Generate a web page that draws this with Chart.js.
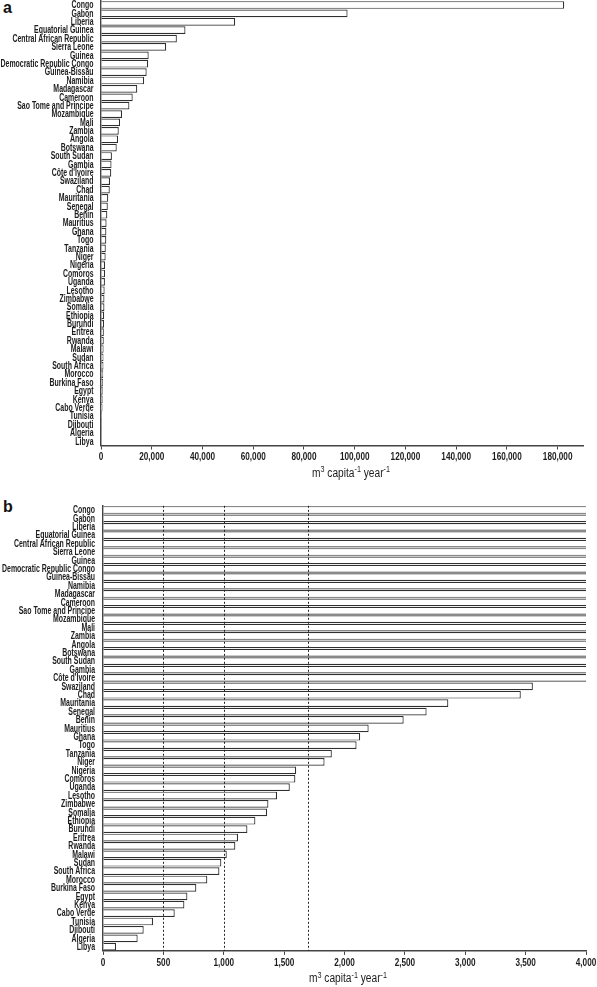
<!DOCTYPE html>
<html>
<head>
<meta charset="utf-8">
<script src="https://cdn.jsdelivr.net/npm/chart.js@4"></script>
<style>
  body { margin: 0; background: #fff; width: 597px; height: 987px; position: relative; overflow: hidden; }
  canvas { position: absolute; left: 0; }
  .tag { position: absolute; left: 3px; font: bold 16px/16px 'Liberation Sans', Arial, sans-serif; color: #111; }
</style>
</head>
<body>
<div class="tag" style="top:0px">a</div>
<canvas id="chartA" width="597" height="490" style="top:0"></canvas>
<div class="tag" style="top:499px">b</div>
<canvas id="chartB" width="597" height="490" style="top:497px"></canvas>
<script>
// pays, du plus au moins doté
const countries = [
  "Congo", "Gabon", "Liberia", "Equatorial Guinea", "Central African Republic",
  "Sierra Leone", "Guinea", "Democratic Republic Congo", "Guinea-Bissau", "Namibia",
  "Madagascar", "Cameroon", "Sao Tome and Principe", "Mozambique", "Mali",
  "Zambia", "Angola", "Botswana", "South Sudan", "Gambia",
  "Côte d'Ivoire", "Swaziland", "Chad", "Mauritania", "Senegal",
  "Benin", "Mauritius", "Ghana", "Togo", "Tanzania",
  "Niger", "Nigeria", "Comoros", "Uganda", "Lesotho",
  "Zimbabwe", "Somalia", "Ethiopia", "Burundi", "Eritrea",
  "Rwanda", "Malawi", "Sudan", "South Africa", "Morocco",
  "Burkina Faso", "Egypt", "Kenya", "Cabo Verde", "Tunisia",
  "Djibouti", "Algeria", "Libya"
];

// m3 par habitant et par an
const water = [
  182600, 97200, 52900, 33300, 29900,
  25700, 18800, 18600, 18000, 17000,
  14300, 12500, 11200, 8300, 7500,
  7000, 6700, 6200, 4300, 4150,
  4050, 3560, 3460, 2860, 2680,
  2490, 2200, 2130, 2100, 1895,
  1835, 1600, 1593, 1547, 1441,
  1370, 1359, 1262, 1196, 1118,
  1096, 1025, 980, 964, 864,
  773, 699, 674, 594, 414,
  337, 287, 108
];

const ticksA = [0, 20000, 40000, 60000, 80000, 100000, 120000, 140000, 160000, 180000];
const ticksB = [0, 500, 1000, 1500, 2000, 2500, 3000, 3500, 4000];
const thresholds = [500, 1000, 1700];

// titre de l'axe : [texte, exposant ?]
const axisTitle = [["m", false], ["3", true], [" capita", false], ["-1", true], [" year", false], ["-1", true]];

const labelFont = "bold 10px 'Liberation Sans', Arial, sans-serif";
const tickFont = "bold 10px 'Liberation Sans', Arial, sans-serif";
const titleFont = "12px 'Liberation Sans', Arial, sans-serif";
const supFont = "8.5px 'Liberation Sans', Arial, sans-serif";

// texte compressé horizontalement (police étroite non dispo)
function narrowText(ctx, text, x, y, sx, align) {
  ctx.save();
  ctx.translate(x, y);
  ctx.scale(sx, 1);
  ctx.textAlign = align;
  ctx.fillText(text, 0, 0);
  ctx.restore();
}

// libellés des axes, dessinés à partir des échelles
const axisText = {
  id: 'axisText',
  afterDraw(chart, args, opts) {
    const { ctx, scales: { x, y } } = chart;
    ctx.save();
    ctx.fillStyle = '#1c1c1c';
    ctx.textBaseline = 'middle';
    ctx.font = labelFont;

    const longest = Math.max(...countries.map(c => ctx.measureText(c).width));
    const sxY = 93 / longest;
    countries.forEach((c, i) => {
      narrowText(ctx, c, x.left - opts.labelGap, y.getPixelForValue(i) + 0.5, sxY, 'right');
    });

    ctx.font = tickFont;
    const sxX = 20.5 / ctx.measureText('1,000').width;
    x.ticks.forEach(t => {
      narrowText(ctx, t.value.toLocaleString('en-US'), x.getPixelForValue(t.value), x.top + 12, sxX, 'center');
    });

    // titre avec exposants
    let w = 0;
    axisTitle.forEach(([t, sup]) => { ctx.font = sup ? supFont : titleFont; w += ctx.measureText(t).width; });
    const sxT = 78 / w;
    ctx.translate((x.left + x.right) / 2 + opts.titleDx - 39, x.top + 28);
    ctx.scale(sxT, 1);
    ctx.textAlign = 'left';
    let cx = 0;
    axisTitle.forEach(([t, sup]) => {
      ctx.font = sup ? supFont : titleFont;
      ctx.fillText(t, cx, sup ? -3.5 : 0);
      cx += ctx.measureText(t).width;
    });
    ctx.restore();
  }
};

// lignes pointillées des seuils (panneau b)
const thresholdLines = {
  id: 'thresholdLines',
  afterDatasetsDraw(chart) {
    const { ctx, chartArea, scales: { x } } = chart;
    ctx.save();
    ctx.strokeStyle = '#222';
    ctx.lineWidth = 1;
    ctx.setLineDash([2, 2]);
    thresholds.forEach(v => {
      const px = Math.round(x.getPixelForValue(v)) + 0.5;
      ctx.beginPath();
      ctx.moveTo(px, chartArea.top);
      ctx.lineTo(px, chartArea.bottom);
      ctx.stroke();
    });
    ctx.restore();
  }
};

function buildChart(id, opts) {
  return new Chart(document.getElementById(id), {
    type: 'bar',
    data: {
      labels: countries,
      datasets: [{
        data: water,
        backgroundColor: '#fff',
        borderColor: '#303030',
        borderWidth: 1.2,
        barPercentage: 0.92,
        categoryPercentage: 1,
        clip: { left: 2, right: 0, top: 2, bottom: 2 }
      }]
    },
    options: {
      indexAxis: 'y',
      responsive: false,
      animation: false,
      layout: { padding: { top: opts.top, right: opts.right, left: 0, bottom: 0 } },
      plugins: {
        legend: { display: false },
        tooltip: { enabled: false },
        axisText: { labelGap: opts.labelGap, titleDx: opts.titleDx }
      },
      scales: {
        y: {
          grid: { display: false },
          border: { display: true, color: '#444', width: 1.5 },
          ticks: { display: false },
          afterFit: s => { s.width = opts.left; }
        },
        x: {
          min: 0,
          max: opts.max,
          grid: { display: true, drawOnChartArea: false, tickLength: 4, color: '#444' },
          border: { display: true, color: '#444', width: 1.5 },
          ticks: { display: false },
          afterBuildTicks: s => { s.ticks = opts.ticks.map(v => ({ value: v })); },
          afterFit: s => { s.height = opts.axisH; }
        }
      }
    },
    plugins: [axisText].concat(opts.plugins || [])
  });
}

buildChart('chartA', { left: 101, right: 14, top: 0.8, axisH: 44.5, max: 190000, ticks: ticksA, labelGap: 7.5, titleDx: 9 });
buildChart('chartB', { left: 103, right: 11, top: 8.8, axisH: 36.1, max: 4000, ticks: ticksB, labelGap: 8, titleDx: 3.5, plugins: [thresholdLines] });
</script>
</body>
</html>
